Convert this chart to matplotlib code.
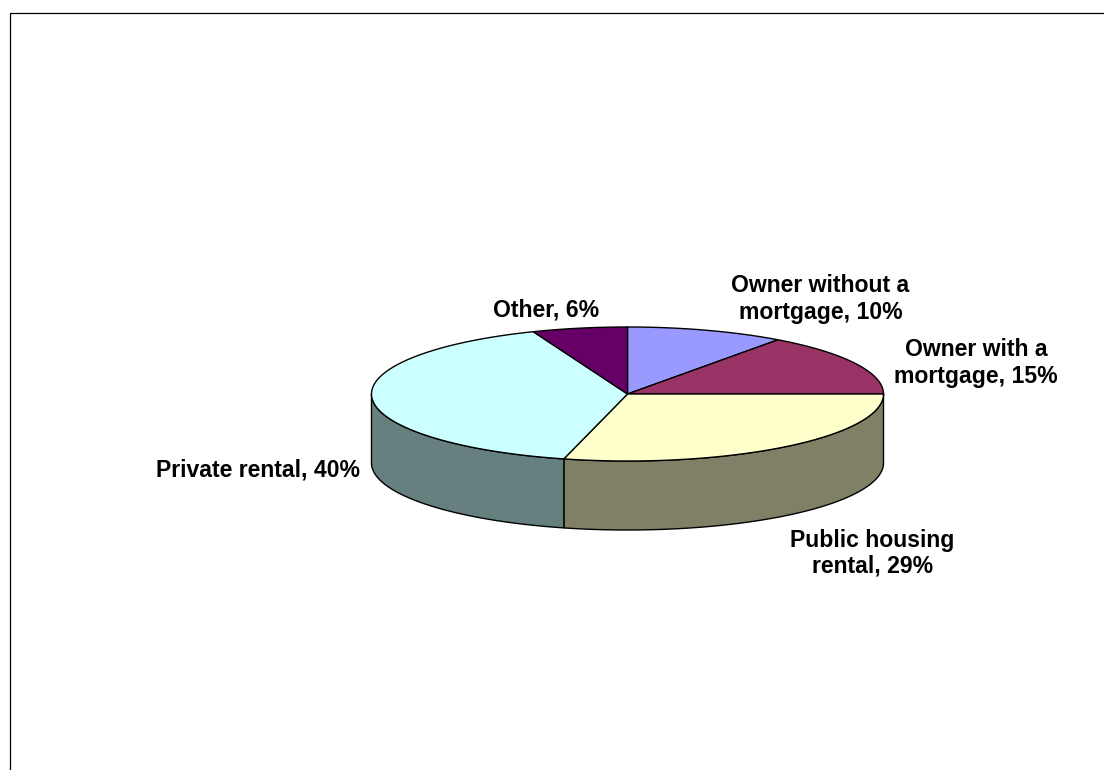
import numpy as np
import matplotlib
matplotlib.use("Agg")
import matplotlib.pyplot as plt
from matplotlib.patches import Polygon
from matplotlib.colors import to_rgb

# housing tenure shares, clockwise from 12 o'clock
categories = ["Owner without a mortgage", "Owner with a mortgage",
              "Public housing rental", "Private rental", "Other"]
shares = [10, 15, 29, 40, 6]
labels = ["Owner without a\nmortgage, 10%", "Owner with a\nmortgage, 15%",
          "Public housing\nrental, 29%", "Private rental, 40%", "Other, 6%"]
colors = ["#9999FF", "#993366", "#FFFFCC", "#CCFFFF", "#660066"]

W, H = 1104, 770
fig = plt.figure(figsize=(W / 100, H / 100), dpi=100)
ax = fig.add_axes([0, 0, 1, 1])
ax.set_xlim(0, W)
ax.set_ylim(H, 0)
ax.axis("off")

# pie geometry in pixels (tilted ellipse + extruded side)
cx, cy = 627.5, 394.0
ra, rb = 256.0, 67.0
depth = 69.0


def rim(t_deg):
    t = np.radians(t_deg)
    return cx + ra * np.sin(t), cy - rb * np.cos(t)


bounds = np.concatenate([[0], np.cumsum(shares)]) / sum(shares) * 360.0

# sides first: only the front half (90..270 deg) is visible
for i, col in enumerate(colors):
    t0, t1 = max(bounds[i], 90.0), min(bounds[i + 1], 270.0)
    if t1 <= t0:
        continue
    ts = np.linspace(t0, t1, 120)
    xs, ys = rim(ts)
    pts = np.column_stack([np.r_[xs, xs[::-1]], np.r_[ys, ys[::-1] + depth]])
    side = tuple(0.5 * c for c in to_rgb(col))
    ax.add_patch(Polygon(pts, closed=True, facecolor=side, edgecolor="black",
                         lw=1.0, joinstyle="round"))

# top faces
for i, col in enumerate(colors):
    ts = np.linspace(bounds[i], bounds[i + 1], 200)
    xs, ys = rim(ts)
    pts = np.column_stack([np.r_[cx, xs], np.r_[cy, ys]])
    ax.add_patch(Polygon(pts, closed=True, facecolor=col, edgecolor="black",
                         lw=1.0, joinstyle="round"))

# data labels: (centre x, first baseline y)
label_pos = [(820.5, 292.5), (976.0, 356.5), (872.5, 547.0),
             (258.5, 476.5), (546.0, 316.5)]
line_gap = 26.0
for text, (lx, ly) in zip(labels, label_pos):
    for k, line in enumerate(text.split("\n")):
        ax.text(lx, ly + k * line_gap, line, ha="center", va="baseline",
                fontsize=16.6, fontweight="bold", family="Liberation Sans",
                color="black")

# chart area frame
ax.plot([9.5, 9.5, W], [H, 13, 13], color="black", lw=0.9,
        solid_joinstyle="miter")

fig.savefig("out.png", dpi=100, facecolor="white")
